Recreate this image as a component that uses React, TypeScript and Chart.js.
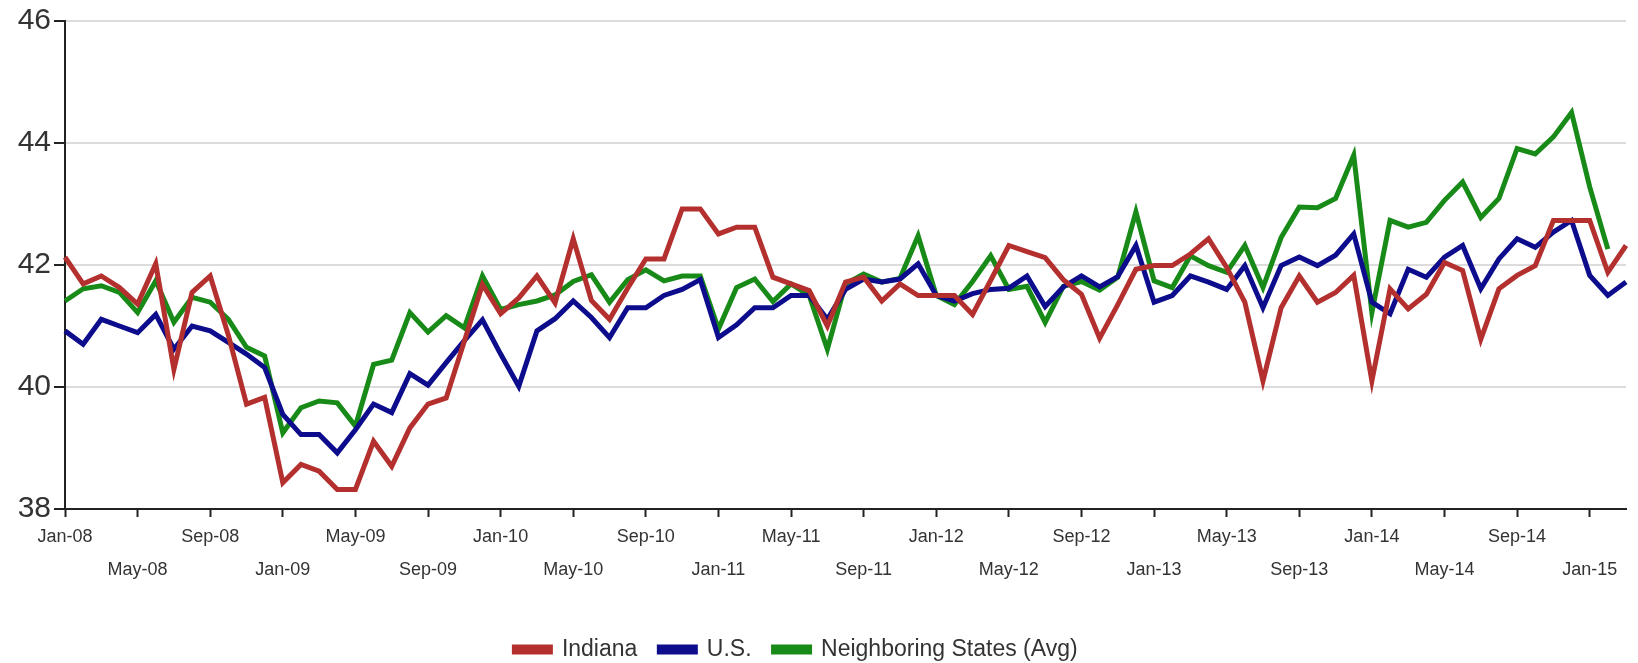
import { useEffect, useRef } from 'react';
import { Chart, registerables } from 'chart.js';

Chart.register(...registerables);

const months = [
  'Jan-08','Feb-08','Mar-08','Apr-08','May-08','Jun-08','Jul-08','Aug-08','Sep-08','Oct-08','Nov-08','Dec-08',
  'Jan-09','Feb-09','Mar-09','Apr-09','May-09','Jun-09','Jul-09','Aug-09','Sep-09','Oct-09','Nov-09','Dec-09',
  'Jan-10','Feb-10','Mar-10','Apr-10','May-10','Jun-10','Jul-10','Aug-10','Sep-10','Oct-10','Nov-10','Dec-10',
  'Jan-11','Feb-11','Mar-11','Apr-11','May-11','Jun-11','Jul-11','Aug-11','Sep-11','Oct-11','Nov-11','Dec-11',
  'Jan-12','Feb-12','Mar-12','Apr-12','May-12','Jun-12','Jul-12','Aug-12','Sep-12','Oct-12','Nov-12','Dec-12',
  'Jan-13','Feb-13','Mar-13','Apr-13','May-13','Jun-13','Jul-13','Aug-13','Sep-13','Oct-13','Nov-13','Dec-13',
  'Jan-14','Feb-14','Mar-14','Apr-14','May-14','Jun-14','Jul-14','Aug-14','Sep-14','Oct-14','Nov-14','Dec-14',
  'Jan-15','Feb-15','Mar-15',
];

const indiana = [
  42.13, 41.69, 41.82, 41.63, 41.36, 42.02, 40.29, 41.55, 41.82, 40.85, 39.72, 39.83,
  38.43, 38.73, 38.62, 38.32, 38.32, 39.11, 38.70, 39.33, 39.72, 39.82, 40.75, 41.68,
  41.20, 41.46, 41.82, 41.38, 42.43, 41.42, 41.11, 41.62, 42.10, 42.10, 42.92, 42.92,
  42.51, 42.62, 42.62, 41.80, 41.69, 41.58, 41.00, 41.72, 41.80, 41.41, 41.69, 41.50,
  41.50, 41.50, 41.19, 41.75, 42.32, 42.22, 42.12, 41.76, 41.52, 40.80, 41.35, 41.93,
  41.99, 41.99, 42.18, 42.43, 41.96, 41.39, 40.10, 41.30, 41.82, 41.39, 41.55, 41.83,
  40.10, 41.61, 41.28, 41.52, 42.04, 41.91, 40.78, 41.61, 41.83, 41.99, 42.73, 42.73,
  42.73, 41.88, 42.32,
];

const us = [
  40.92, 40.70, 41.11, 41.00, 40.89, 41.19, 40.62, 41.00, 40.92, 40.73, 40.54, 40.32,
  39.55, 39.22, 39.22, 38.92, 39.30, 39.72, 39.58, 40.22, 40.03, 40.40, 40.76, 41.10,
  40.54, 40.01, 40.92, 41.12, 41.41, 41.14, 40.81, 41.30, 41.30, 41.50, 41.60, 41.76,
  40.81, 41.02, 41.30, 41.30, 41.50, 41.50, 41.11, 41.60, 41.77, 41.72, 41.77, 42.02,
  41.50, 41.41, 41.53, 41.60, 41.62, 41.82, 41.32, 41.64, 41.82, 41.64, 41.81, 42.32,
  41.39, 41.50, 41.82, 41.72, 41.60, 41.99, 41.30, 41.99, 42.13, 41.99, 42.16, 42.51,
  41.39, 41.20, 41.93, 41.80, 42.13, 42.32, 41.61, 42.10, 42.43, 42.29, 42.54, 42.73,
  41.83, 41.50, 41.72,
];

const neighboring = [
  41.41, 41.61, 41.66, 41.55, 41.22, 41.74, 41.06, 41.47, 41.39, 41.11, 40.65, 40.51,
  39.25, 39.66, 39.77, 39.74, 39.36, 40.37, 40.44, 41.22, 40.90, 41.17, 40.97, 41.82,
  41.27, 41.35, 41.41, 41.51, 41.73, 41.84, 41.39, 41.76, 41.92, 41.74, 41.82, 41.82,
  40.95, 41.63, 41.77, 41.40, 41.69, 41.50, 40.62, 41.69, 41.85, 41.72, 41.78, 42.48,
  41.50, 41.35, 41.73, 42.15, 41.60, 41.65, 41.06, 41.65, 41.73, 41.59, 41.80, 42.87,
  41.74, 41.63, 42.15, 41.99, 41.88, 42.32, 41.63, 42.45, 42.95, 42.94, 43.09, 43.80,
  41.22, 42.73, 42.62, 42.70, 43.06, 43.36, 42.78, 43.09, 43.91, 43.82, 44.10, 44.50,
  43.28, 42.26, null,
];

const yMin = 38;
const yMax = 46;
const yStep = 2;
const labelEvery = 4;

const seriesNames = ['Indiana', 'U.S.', 'Neighboring States (Avg)'];
const seriesColors = ['#b3302f', '#0c0c8c', '#178a17'];

const FONT = "'Liberation Sans', Arial, sans-serif";

const shiftLegend = {
  id: 'shiftLegend',
  afterLayout(chart: any) {
    const l = chart.legend;
    if (l) {
      l.left -= 17;
      l.right -= 17;
      l.top += 8;
      l.bottom += 8;
    }
  },
};

export default function App() {
  const canvasRef = useRef<HTMLCanvasElement | null>(null);

  useEffect(() => {
    document.body.style.margin = '0';
    const canvas = canvasRef.current;
    if (!canvas) return;
    const seriesData = [indiana, us, neighboring];
    const chart = new Chart(canvas, {
      type: 'line',
      data: {
        labels: months,
        datasets: seriesData.map((d, i) => ({
          label: seriesNames[i],
          data: d,
          borderColor: seriesColors[i],
          backgroundColor: seriesColors[i],
          borderWidth: 5,
          pointRadius: 0,
          tension: 0,
          spanGaps: false,
        })),
      },
      plugins: [shiftLegend],
      options: {
        responsive: false,
        animation: false,
        layout: { padding: { left: 0, right: 12, top: 9, bottom: 0 } },
        plugins: {
          tooltip: { enabled: false },
          legend: {
            position: 'bottom',
            labels: {
              boxWidth: 36,
              boxHeight: 5,
              padding: 22,
              color: '#333',
              font: { family: FONT, size: 23 },
            },
          },
        },
        scales: {
          x: {
            offset: false,
            grid: {
              drawOnChartArea: false,
              drawTicks: true,
              tickLength: 8,
              tickWidth: 2,
              tickColor: (ctx: any) => (ctx.index % labelEvery === 0 ? '#222' : 'rgba(0,0,0,0)'),
            },
            border: { color: '#222', width: 2 },
            ticks: {
              autoSkip: false,
              maxRotation: 0,
              minRotation: 0,
              padding: 3,
              color: '#333',
              font: { family: FONT, size: 18, lineHeight: 1.85 },
              callback: (_v: any, idx: number) => {
                if (idx % labelEvery !== 0) return '';
                const lab = months[idx];
                return (idx / labelEvery) % 2 === 0 ? lab : ['', lab];
              },
            },
            afterFit: (scale: any) => { scale.height = 99; },
          },
          y: {
            min: yMin,
            max: yMax,
            grid: {
              color: '#dcdcdc',
              lineWidth: 2,
              tickColor: '#222',
              tickLength: 11,
              tickWidth: 2,
            },
            border: { color: '#222', width: 2 },
            ticks: {
              stepSize: yStep,
              padding: 3,
              color: '#333',
              font: { family: FONT, size: 30 },
            },
            afterFit: (scale: any) => { scale.width = 65; },
          },
        },
      },
    });
    return () => chart.destroy();
  }, []);

  return (
    <div style={{ width: 1638, height: 663 }}>
      <canvas ref={canvasRef} width={1638} height={663} style={{ width: 1638, height: 663, display: 'block' }} />
    </div>
  );
}
